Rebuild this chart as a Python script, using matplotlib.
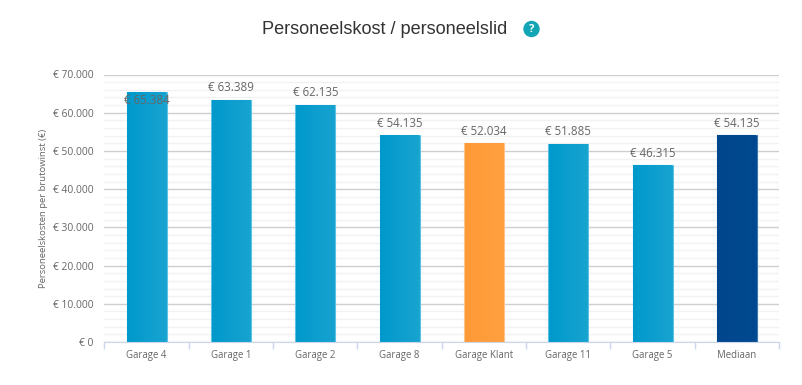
import numpy as np
import matplotlib
matplotlib.use('Agg')
import matplotlib.pyplot as plt
from matplotlib.colors import LinearSegmentedColormap
from matplotlib.patches import Circle
from matplotlib.transforms import IdentityTransform

garages = ['Garage 4', 'Garage 1', 'Garage 2', 'Garage 8', 'Garage Klant', 'Garage 11', 'Garage 5', 'Mediaan']
waarden = [65384, 63389, 62135, 54135, 52034, 51885, 46315, 54135]
yticks = [0, 10000, 20000, 30000, 40000, 50000, 60000, 70000]
minor_ticks = np.arange(0, 70001, 2000)

blauw = ('#0099cc', '#18a3d0', '#5cc3e4')
oranje = ('#ff9a38', '#ffa03f', '#ffc48c')
donker = ('#00468c', '#004a90', '#3c76ae')
kleuren = [blauw, blauw, blauw, blauw, oranje, blauw, blauw, donker]

plt.rcParams['font.family'] = ['Open Sans', 'DejaVu Sans']


def euro(v):
    return '€ ' + f'{v:,}'.replace(',', '.')


W, H = 803, 385
fig = plt.figure(figsize=(W / 100, H / 100), dpi=100)
ax = fig.add_axes([104.5 / W, 1 - 342 / H, (779 - 104.5) / W, 267.5 / H])

x = np.arange(len(garages))
breedte = 0.475
bars = ax.bar(x, waarden, width=breedte, zorder=2)
for bar, kleur in zip(bars, kleuren):
    # horizontaal verloop in de balk, dunne lichte rand eromheen
    cmap = LinearSegmentedColormap.from_list('b', [kleur[0], kleur[1]])
    bar.set_facecolor(kleur[1])
    bar.set_edgecolor(kleur[2])
    bar.set_linewidth(0.8)
    bx, bw, bh = bar.get_x(), bar.get_width(), bar.get_height()
    ax.imshow(np.linspace(0, 1, 32).reshape(1, -1), cmap=cmap, aspect='auto',
              extent=[bx + 0.008, bx + bw - 0.008, 0, bh - 150], zorder=2.5)

for i, v in enumerate(waarden):
    dy = 12 if i > 0 else -8
    ax.annotate(euro(v), (x[i], v), xytext=(0, dy), textcoords='offset pixels',
                ha='center', va='center', fontsize=8.3, color='#666666', zorder=4)

ax.set_yticks(yticks)
ax.set_yticklabels([euro(v) for v in yticks], fontsize=7.4, color='#666666')
ax.set_yticks(minor_ticks, minor=True)
ax.grid(True, which='minor', axis='y', color='#f2f2f2', linewidth=1, zorder=0)
ax.grid(True, which='major', axis='y', color='#cfcfcf', linewidth=1, zorder=1)
ax.tick_params(axis='y', which='both', length=0, pad=8)

ax.set_xticks(x)
ax.set_xticklabels(garages, fontsize=6.9, color='#666666')
ax.tick_params(axis='x', which='major', length=0, pad=6)
ax.set_xticks(np.arange(-0.5, len(garages)), minor=True)
ax.tick_params(axis='x', which='minor', length=5, width=1, color='#ccd6eb')
ax.grid(False, axis='x', which='both')

for s in ['top', 'right', 'left']:
    ax.spines[s].set_visible(False)
ax.spines['bottom'].set_color('#ccd6eb')
ax.set_axisbelow(True)
ax.set_xlim(-0.5, len(garages) - 0.5)
ax.set_ylim(0, 70000)

fig.text(43.5 / W, 1 - 208 / H, 'Personeelskosten per brutowinst (€)', rotation=90,
         ha='center', va='center', fontsize=6.8, color='#666666')
fig.text(385 / W, 1 - 29.5 / H, 'Personeelskost / personeelslid', ha='center', va='center',
         fontsize=13.1, color='#333333', family='Liberation Sans')

# vraagteken-icoon naast de titel
fig.add_artist(Circle((531.5, H - 29), 7.5, transform=IdentityTransform(), color='#12a5b5'))
fig.text(531.5 / W, 1 - 29 / H, '?', ha='center', va='center', fontsize=8, weight='bold', color='white')

fig.savefig('out.png', dpi=100)
